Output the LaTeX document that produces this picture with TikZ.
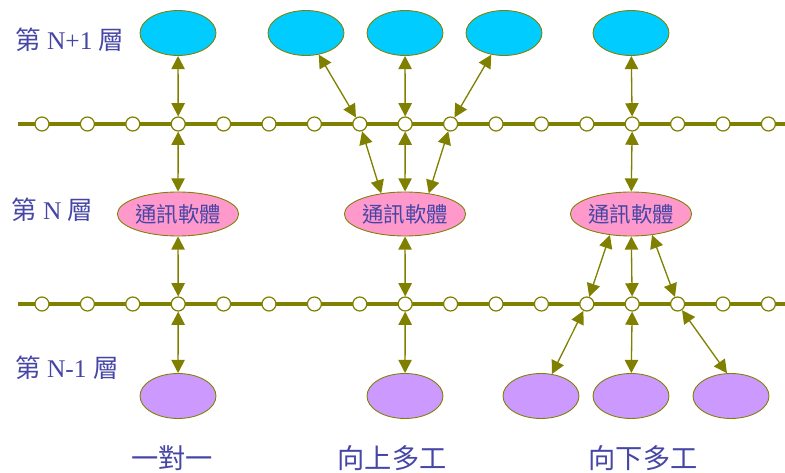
\documentclass[tikz,border=0pt]{standalone}
\usepackage{fontspec}
\setmainfont{Liberation Serif}
\newfontfamily\cjk{Noto Sans CJK TC}
\usetikzlibrary{shapes.geometric, arrows.meta}
\definecolor{busolive}{HTML}{808000}
\definecolor{upcyan}{HTML}{00CCFF}
\definecolor{softpink}{HTML}{FF99CC}
\definecolor{lilac}{HTML}{CC99FF}
\definecolor{inkblue}{HTML}{4646A6}

\begin{document}
\begin{tikzpicture}[x=0.02cm, y=-0.02cm,
	bus/.style={draw=busolive, line width=2.3pt},
	dot/.style={circle, draw=busolive, fill=white, line width=0.7pt, minimum size=0.28cm, inner sep=0pt},
	blob/.style={ellipse, draw=busolive, line width=0.5pt, minimum width=1.52cm, minimum height=0.9cm, inner sep=0pt},
	soft/.style={ellipse, draw=busolive, fill=softpink, line width=0.5pt, minimum width=2.4cm, minimum height=0.88cm, inner sep=0pt, text=inkblue, font=\cjk\fontsize{12.2}{14}\selectfont},
	link/.style={draw=busolive, line width=0.75pt, {Triangle[length=7.5pt, width=7.6pt]}-{Triangle[length=7.5pt, width=7.6pt]}},
	layer/.style={anchor=west, text=inkblue, font=\fontsize{14.5}{17}\selectfont},
	kind/.style={text=inkblue, font=\cjk\fontsize{15.5}{18}\selectfont}]

	\useasboundingbox (0,0) rectangle (785,473);

	\coordinate (tl) at (18,124);
	\coordinate (tr) at (785,124);
	\coordinate (bl) at (18,304);
	\coordinate (br) at (785,304);
	\draw[bus] (tl) -- (tr);
	\draw[bus] (bl) -- (br);

	\foreach \i in {0,...,16} {
		\node[dot] (t\i) at ({42+45.4*\i},124) {};
		\node[dot] (b\i) at ({42+45.4*\i},304) {};
	}

	\node[blob, fill=upcyan] (hiA) at (178,33) {};
	\node[blob, fill=upcyan] (hiB) at (306,33) {};
	\node[blob, fill=upcyan] (hiC) at (405,33) {};
	\node[blob, fill=upcyan] (hiD) at (504,33) {};
	\node[blob, fill=upcyan] (hiE) at (631,33) {};

	\node[soft] (midA) at (178,214) {通訊軟體};
	\node[soft] (midB) at (405,214) {通訊軟體};
	\node[soft] (midC) at (631,214) {通訊軟體};

	\node[blob, fill=lilac] (loA) at (178,396) {};
	\node[blob, fill=lilac] (loB) at (405,396) {};
	\node[blob, fill=lilac] (loC) at (541,396) {};
	\node[blob, fill=lilac] (loD) at (631,396) {};
	\node[blob, fill=lilac] (loE) at (731,396) {};

	\draw[link] (hiA) -- (t3);
	\draw[link] (t3) -- (midA);
	\draw[link] (midA) -- (b3);
	\draw[link] (b3) -- (loA);

	\draw[link] (hiB) -- (t7);
	\draw[link] (hiC) -- (t8);
	\draw[link] (hiD) -- (t9);
	\draw[link] (t7) -- (midB.139);
	\draw[link] (t8) -- (midB);
	\draw[link] (t9) -- (midB.41);
	\draw[link] (midB) -- (b8);
	\draw[link] (b8) -- (loB);

	\draw[link] (hiE) -- (t13);
	\draw[link] (t13) -- (midC);
	\draw[link] (midC.225) -- (b12);
	\draw[link] (midC) -- (b13);
	\draw[link] (midC.315) -- (b14);
	\draw[link] (b12) -- (loC);
	\draw[link] (b13) -- (loD);
	\draw[link] (b14) -- (loE.100);

	\node[layer] (labN1) at (9,40) {{\cjk 第} N+1 {\cjk 層}};
	\node[layer] (labN) at (5,210) {{\cjk 第} N {\cjk 層}};
	\node[layer] (labN0) at (9,368) {{\cjk 第} N-1 {\cjk 層}};

	\node[kind] (oneone) at (172,458) {一對一};
	\node[kind] (upmux) at (392,458) {向上多工};
	\node[kind] (downmux) at (643,458) {向下多工};

\end{tikzpicture}
\end{document}
